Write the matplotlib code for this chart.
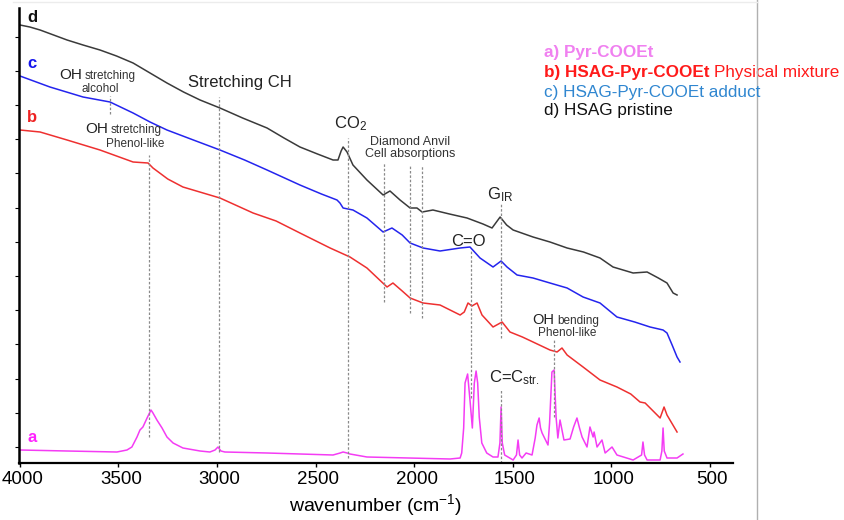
import numpy as np
import matplotlib
matplotlib.use('Agg')
from matplotlib import pyplot as plt
from matplotlib.lines import Line2D
from matplotlib.transforms import ScaledTranslation

plt.rcParams['font.family'] = ['Liberation Sans', 'DejaVu Sans']
plt.rcParams['mathtext.default'] = 'regular'

# spectra (wavenumber in cm-1, offset absorbance in a.u.)
wn_d = [4000, 3950, 3898, 3761, 3680, 3594, 3510, 3426, 3340, 3254, 3170, 3086, 2985, 2870,
        2746, 2660, 2579, 2490, 2411, 2386, 2370, 2360, 2340, 2310, 2239, 2157, 2122, 2071,
        2020, 1985, 1959, 1904, 1820, 1731, 1650, 1604, 1563, 1530, 1497, 1396, 1310, 1223,
        1140, 1056, 990, 888, 817, 760, 716, 685, 665]
ab_d = [43.8, 43.6, 43.3, 42.3, 41.8, 41.3, 40.7, 40.0, 39.0, 38.0, 37.1, 36.3, 35.5, 34.5,
        33.5, 32.5, 31.6, 30.9, 30.3, 30.3, 31.2, 31.6, 31.1, 29.8, 28.3, 26.8, 27.2, 26.3,
        25.5, 25.5, 25.1, 25.3, 24.9, 24.5, 23.9, 23.5, 24.6, 23.8, 23.3, 22.6, 22.1, 21.5,
        21.1, 20.5, 19.6, 19.0, 19.1, 18.5, 18.0, 17.0, 16.8]

wn_c = [4000, 3848, 3680, 3543, 3426, 3340, 3254, 3120, 2985, 2860, 2746, 2579, 2470, 2391,
        2376, 2360, 2310, 2239, 2157, 2112, 2060, 2020, 1954, 1868, 1766, 1716, 1665, 1599,
        1558, 1528, 1477, 1396, 1310, 1223, 1142, 1056, 970, 880, 802, 736, 716, 690, 665, 650]
ab_c = [38.7, 37.6, 36.6, 36.1, 35.0, 34.1, 33.3, 32.3, 31.3, 30.3, 29.3, 27.8, 26.9, 26.3,
        26.0, 25.5, 25.3, 24.5, 23.1, 23.5, 22.8, 22.0, 21.5, 21.2, 21.5, 21.6, 20.5, 19.6,
        20.2, 19.6, 18.8, 18.5, 18.0, 17.5, 16.6, 16.0, 14.6, 14.1, 13.6, 13.3, 13.0, 11.8, 10.6, 10.1]

wn_b = [4000, 3898, 3761, 3594, 3426, 3350, 3325, 3250, 3173, 2985, 2817, 2700, 2579, 2426,
        2325, 2239, 2137, 2107, 2060, 2020, 1954, 1868, 1766, 1745, 1726, 1706, 1680, 1655,
        1599, 1553, 1513, 1450, 1396, 1310, 1274, 1249, 1223, 1142, 1056, 970, 900, 853, 827,
        751, 731, 716, 665]
ab_b = [33.3, 33.1, 32.3, 31.3, 30.1, 30.0, 29.5, 28.4, 27.6, 26.5, 25.0, 24.2, 23.0, 21.5,
        20.6, 19.5, 17.6, 18.0, 17.2, 16.5, 16.0, 15.8, 14.8, 15.1, 16.0, 15.7, 16.0, 14.8,
        13.6, 14.1, 13.1, 12.6, 12.1, 11.3, 11.1, 11.5, 10.8, 9.6, 8.3, 7.6, 6.9, 6.1, 6.0,
        4.5, 5.6, 4.8, 3.1]

wn_a = [4000, 3761, 3508, 3457, 3432, 3406, 3391, 3376, 3355, 3335, 3325, 3305, 3279, 3254,
        3223, 3173, 3086, 3036, 3010, 2995, 2980, 2960, 2746, 2411, 2375, 2360, 2340, 2325,
        2239, 1817, 1766, 1758, 1748, 1741, 1728, 1716, 1704, 1694, 1685, 1677, 1669, 1656,
        1631, 1599, 1574, 1564, 1558, 1552, 1540, 1497, 1480, 1472, 1464, 1452, 1431, 1401,
        1385, 1376, 1365, 1358, 1350, 1340, 1320, 1312, 1300, 1289, 1279, 1270, 1259, 1248,
        1239, 1208, 1190, 1173, 1160, 1147, 1122, 1107, 1091, 1086, 1071, 1046, 1030, 995,
        970, 888, 845, 838, 830, 817, 751, 742, 736, 730, 716, 665, 635]
ab_a = [1.3, 1.2, 1.1, 1.3, 1.6, 2.6, 3.3, 3.6, 4.5, 5.3, 5.0, 4.3, 3.5, 2.6,
        2.0, 1.5, 1.2, 1.1, 1.3, 1.6, 1.2, 1.1, 1.0, 0.8, 1.0, 1.1, 1.0, 0.9,
        0.6, 0.4, 0.5, 1.0, 3.5, 8.0, 8.9, 6.3, 3.5, 8.0, 9.2, 8.0, 4.6, 2.0,
        1.0, 0.6, 0.6, 2.0, 5.6, 2.0, 0.8, 0.3, 0.8, 2.3, 0.8, 0.5, 1.0, 0.8,
        2.5, 3.8, 4.5, 3.5, 3.0, 2.6, 1.8, 4.0, 9.1, 9.3, 4.6, 2.5, 4.3, 3.2,
        2.3, 2.4, 3.6, 4.5, 3.5, 2.6, 1.6, 3.6, 2.6, 3.1, 1.6, 2.3, 1.0, 1.6,
        0.8, 0.3, 0.8, 2.1, 0.8, 0.3, 0.3, 1.2, 3.5, 1.2, 0.5, 0.5, 0.9]

# band markers: position, bottom, top
band_wn = [3543, 3345, 2990, 2335, 2152, 2020, 1959, 1711, 1558, 1558, 1289]
band_lo = [34.9, 2.6, 1.1, 0.5, 16.1, 15.0, 14.5, 6.5, 12.5, 0.0, 4.6]
band_hi = [36.7, 30.8, 36.6, 32.5, 30.1, 29.7, 29.7, 21.3, 26.0, 7.3, 12.3]

legend_txt = ['a) Pyr-COOEt', 'b) HSAG-Pyr-COOEt', 'Physical mixture',
              'c) HSAG-Pyr-COOEt adduct', 'd) HSAG pristine']

W, H = 845, 520
fig = plt.figure(figsize=(W / 100, H / 100), dpi=100)
ax = fig.add_axes([19 / W, (H - 463) / H, (733 - 19) / W, (463 - 8) / H])

ax.plot(wn_a, ab_a, color='#f43cf4', lw=1.1)
ax.plot(wn_b, ab_b, color='#ee3030', lw=1.1)
ax.plot(wn_c, ab_c, color='#2424ee', lw=1.1)
ax.plot(wn_d, ab_d, color='#3a3a3a', lw=1.1)

for w, lo, hi in zip(band_wn, band_lo, band_hi):
    ax.plot([w, w], [lo, hi], color='#8a8a8a', lw=0.9, ls=(0, (2, 1.5)))

ax.set_xlim(4005, 381)
ax.set_ylim(0, 45.5)
ax.set_xticks([4000, 3500, 3000, 2500, 2000, 1500, 1000, 500])
ax.set_yticks(np.arange(1.6, 45, 3.42))
ax.set_yticklabels([])
ax.tick_params(axis='x', direction='out', length=3, width=1, labelsize=13.5, pad=3)
ax.tick_params(axis='y', direction='out', length=3, width=0.8)
shift = ScaledTranslation(2.5 / 100, 0, fig.dpi_scale_trans)
for lab in ax.get_xticklabels():
    lab.set_transform(lab.get_transform() + shift)
for s in ['top', 'right']:
    ax.spines[s].set_visible(False)
ax.spines['left'].set_linewidth(1.8)
ax.spines['bottom'].set_linewidth(1.6)
ax.set_xlabel('wavenumber (cm$^{-1}$)', fontsize=14, labelpad=3)

# curve letters
ax.text(3939, 44.5, 'd', color='#111111', fontsize=12, fontweight='bold', ha='center', va='center')
ax.text(3939, 39.9, 'c', color='#1515ee', fontsize=12, fontweight='bold', ha='center', va='center')
ax.text(3939, 34.5, 'b', color='#ee2222', fontsize=12, fontweight='bold', ha='center', va='center')
ax.text(3939, 2.5, 'a', color='#ff22ff', fontsize=12, fontweight='bold', ha='center', va='center')


def two_size(w, y, big, small, size_big=11, size_small=8.5):
    t = ax.text(w, y, big, fontsize=size_big, color='#222222', ha='right', va='baseline')
    ax.annotate(small, xy=(1, 0), xycoords=t, xytext=(2, 0), textcoords='offset points',
                fontsize=size_small, color='#333333', ha='left', va='bottom')


two_size(3685, 38.4, 'OH', 'stretching')
ax.text(3594, 37.4, 'alcohol', fontsize=8.5, color='#333333', ha='center', va='center')
two_size(3553, 33.0, 'OH', 'stretching')
ax.text(3416, 31.9, 'Phenol-like', fontsize=8.5, color='#333333', ha='center', va='center')
ax.text(2883, 38.1, 'Stretching CH', fontsize=12, color='#222222', ha='center', va='center')
ax.text(2320, 33.9, 'CO$_2$', fontsize=12, color='#222222', ha='center', va='center')
ax.text(2020, 32.1, 'Diamond Anvil', fontsize=9, color='#333333', ha='center', va='center')
ax.text(2020, 30.9, 'Cell absorptions', fontsize=9, color='#333333', ha='center', va='center')
ax.text(1563, 26.8, 'G$_{IR}$', fontsize=12, color='#222222', ha='center', va='center')
ax.text(1726, 22.1, 'C=O', fontsize=12, color='#222222', ha='center', va='center')
two_size(1289, 13.9, 'OH', 'bending', 10.5, 8.5)
ax.text(1223, 13.0, 'Phenol-like', fontsize=8.5, color='#333333', ha='center', va='center')
ax.text(1492, 8.5, 'C=C$_{str.}$', fontsize=12, color='#222222', ha='center', va='center')

# legend as coloured text
lx = 544 / W
fs_leg = 12.3
fig.text(lx, 1 - 53 / H, legend_txt[0], color='#f080f0', fontsize=fs_leg, fontweight='bold', va='center')
tb = fig.text(lx, 1 - 73 / H, legend_txt[1], color='#ff1a1a', fontsize=fs_leg, fontweight='bold', va='center')
ax.annotate(legend_txt[2], xy=(1, 0.5), xycoords=tb, xytext=(3, 0), textcoords='offset points',
            color='#ff1a1a', fontsize=fs_leg, ha='left', va='center', annotation_clip=False)
fig.text(lx, 1 - 92 / H, legend_txt[3], color='#2f86d0', fontsize=fs_leg, va='center')
fig.text(lx, 1 - 111 / H, legend_txt[4], color='#111111', fontsize=fs_leg, va='center')

# frame lines of the original slide
fig.add_artist(Line2D([757 / W, 757 / W], [0, 1], transform=fig.transFigure, color='#b0b0b0', lw=1))
fig.add_artist(Line2D([13 / W, 757 / W], [1 - 1.5 / H, 1 - 1.5 / H], transform=fig.transFigure,
                      color='#ececec', lw=1))

fig.savefig('out.png', dpi=100)
